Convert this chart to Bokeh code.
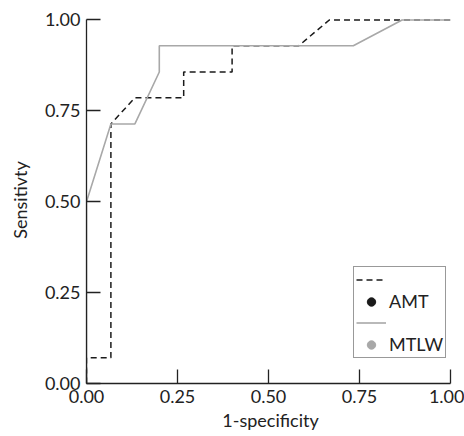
from bokeh.plotting import figure
from bokeh.models import Range1d, FixedTicker, Legend, LegendItem
from bokeh.embed import file_html
from bokeh.resources import INLINE

# ROC data
amt_fpr = [0.0, 0.0, 0.067, 0.067, 0.133, 0.267, 0.267, 0.4, 0.4, 0.583, 0.667, 0.867, 1.0]
amt_tpr = [0.0, 0.071, 0.071, 0.714, 0.786, 0.786, 0.857, 0.857, 0.929, 0.929, 1.0, 1.0, 1.0]
mtlw_fpr = [0.0, 0.0, 0.067, 0.133, 0.2, 0.2, 0.733, 0.867, 1.0]
mtlw_tpr = [0.0, 0.5, 0.714, 0.714, 0.857, 0.929, 0.929, 1.0, 1.0]

tick_values = [0.0, 0.25, 0.5, 0.75, 1.0]
tick_labels = ["0.00", "0.25", "0.50", "0.75", "1.00"]

FONT = "Lato"
TXT = "#222222"
GRAY = "#a8a8a8"

p = figure(width=464, height=436, output_backend="svg", toolbar_location=None,
           x_range=Range1d(0, 1.011), y_range=Range1d(0, 1.0096),
           min_border_left=86, min_border_right=10, min_border_top=16, min_border_bottom=53)
p.outline_line_color = None
p.xgrid.visible = False
p.ygrid.visible = False

amt_line = p.line(amt_fpr, amt_tpr, line_color="#1a1a1a", line_width=1.5, line_dash="6 4")
mtlw_line = p.line(mtlw_fpr, mtlw_tpr, line_color=GRAY, line_width=1.6)

# point markers used only as legend symbols (hidden in the plot)
amt_dot = p.scatter(amt_fpr, amt_tpr, size=9, fill_color="#1a1a1a", line_color="#1a1a1a", visible=False)
mtlw_dot = p.scatter(mtlw_fpr, mtlw_tpr, size=9, fill_color=GRAY, line_color=GRAY, visible=False)

labels = dict(zip(tick_values, tick_labels))
for ax in (p.xaxis[0], p.yaxis[0]):
    ax.ticker = FixedTicker(ticks=tick_values)
    ax.major_label_overrides = labels
    ax.bounds = (0, 1)
    ax.major_tick_in = 14
    ax.major_tick_out = 0
    ax.minor_tick_in = 0
    ax.minor_tick_out = 0
    ax.axis_line_color = "#222222"
    ax.axis_line_width = 1.3
    ax.major_tick_line_color = "#222222"
    ax.major_tick_line_width = 1.3
    ax.major_label_text_font = FONT
    ax.major_label_text_font_size = "18px"
    ax.major_label_text_color = TXT
    ax.axis_label_text_font = FONT
    ax.axis_label_text_font_size = "18px"
    ax.axis_label_text_font_style = "normal"
    ax.axis_label_text_color = TXT

p.xaxis.axis_label = "1-specificity"
p.yaxis.axis_label = "Sensitivty"
p.xaxis.major_label_standoff = 6
p.yaxis.major_label_standoff = 6
p.xaxis.axis_label_standoff = 3
p.yaxis.axis_label_standoff = 11

legend = Legend(items=[
    LegendItem(label=" ", renderers=[amt_line]),
    LegendItem(label="AMT", renderers=[amt_dot]),
    LegendItem(label=" ", renderers=[mtlw_line]),
    LegendItem(label="MTLW", renderers=[mtlw_dot]),
], location=(267, 25))
legend.border_line_color = "#333333"
legend.border_line_width = 1
legend.background_fill_color = "white"
legend.background_fill_alpha = 1
legend.label_text_font = FONT
legend.label_text_font_size = "18px"
legend.label_text_color = TXT
legend.padding = 2
legend.spacing = 0
legend.margin = 0
legend.label_height = 21
legend.glyph_height = 21
legend.glyph_width = 30
legend.label_standoff = 3
p.add_layout(legend)

open("out.html", "w").write(file_html(p, INLINE))
